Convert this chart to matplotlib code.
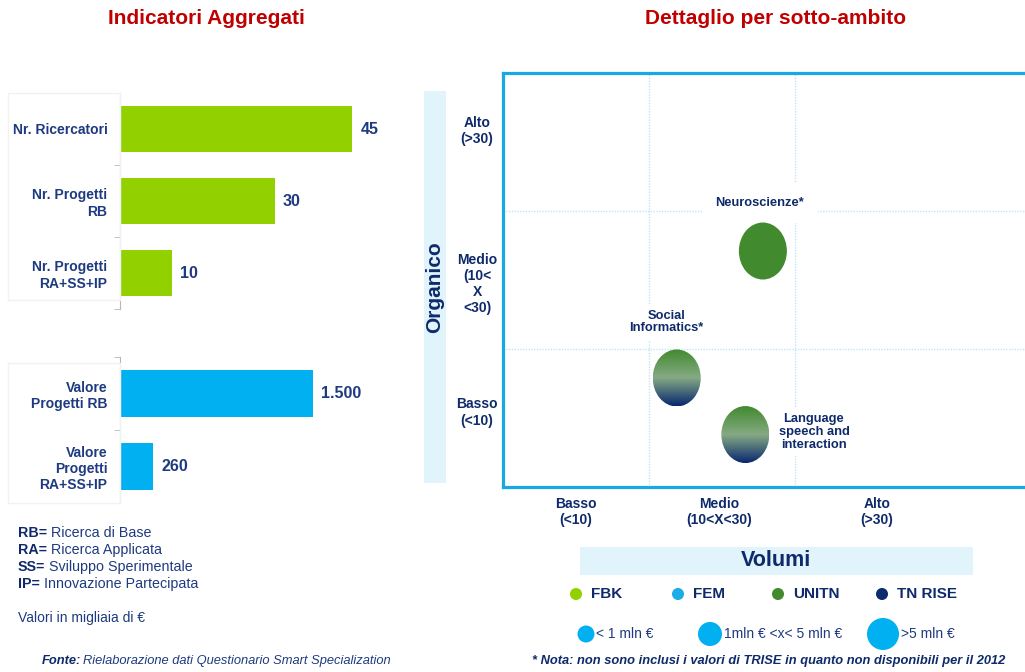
import numpy as np
import matplotlib
matplotlib.use("Agg")
import matplotlib.pyplot as plt
from matplotlib.patches import Ellipse, Rectangle
from matplotlib.colors import LinearSegmentedColormap

plt.rcParams["font.family"] = ["Liberation Sans", "DejaVu Sans"]

# --- data ---
count_labels = ["Nr. Ricercatori", "Nr. Progetti\nRB", "Nr. Progetti\nRA+SS+IP"]
count_values = [45, 30, 10]
count_text = ["45", "30", "10"]

value_labels = ["Valore\nProgetti RB", "Valore\nProgetti\nRA+SS+IP"]
value_values = [1500, 260]
value_text = ["1.500", "260"]

row_labels = ["Basso\n(<10)", "Medio\n(10<\nX\n<30)", "Alto\n(>30)"]
col_labels = ["Basso\n(<10)", "Medio\n(10<X<30)", "Alto\n(>30)"]

bubble_names = ["Neuroscienze*", "Social\nInformatics*", "Language\nspeech and\ninteraction"]
bubble_x = [1.78, 1.19, 1.66]
bubble_y = [1.71, 0.79, 0.38]
bubble_fill = ["solid", "gradient", "gradient"]

legend_names = ["FBK", "FEM", "UNITN", "TN RISE"]
legend_colors = ["#92D000", "#1AACE6", "#418A2E", "#0C2A6E"]
size_names = ["< 1 mln \u20ac", "1mln \u20ac <x< 5 mln \u20ac", ">5 mln \u20ac"]

NAVY = "#1E3A80"
DARK = "#0E2A6A"
RED = "#C00000"
GREEN = "#92D000"
BLUE = "#00B0F0"

W, H = 1025, 672
fig = plt.figure(figsize=(W / 100, H / 100), dpi=100)


def px_axes(x0, y0, x1, y1):
    return fig.add_axes([x0 / W, 1 - y1 / H, (x1 - x0) / W, (y1 - y0) / H])


def fx(x):
    return x / W


def fy(y):
    return 1 - y / H


# titles
fig.text(fx(206), fy(18), "Indicatori Aggregati", color=RED, fontsize=15,
         fontweight="bold", ha="center", va="center")
fig.text(fx(776), fy(18), "Dettaglio per sotto-ambito", color=RED, fontsize=15,
         fontweight="bold", ha="center", va="center")


def bar_panel(ax, labels, values, texts, color, xmax):
    n = len(labels)
    ax.barh(range(n), values, height=0.65, color=color)
    ax.set_ylim(n - 0.5, -0.5)
    ax.set_xlim(0, xmax)
    for s in ["top", "right", "bottom"]:
        ax.spines[s].set_visible(False)
    ax.spines["left"].set_color("#B8B8B8")
    ax.set_xticks([])
    ax.set_yticks(range(n), labels, fontsize=10, fontweight="bold", color=NAVY)
    ax.tick_params(axis="y", which="major", length=0, pad=9)
    ax.set_yticks(np.arange(-0.5, n, 1.0), minor=True)
    ax.tick_params(axis="y", which="minor", length=4, color="#B8B8B8")
    for i, (v, t) in enumerate(zip(values, texts)):
        ax.text(v + xmax * 0.03, i, t, va="center", ha="left", fontsize=11.5,
                fontweight="bold", color=NAVY)
    ax.patch.set_alpha(0)


# faint label frames
fig.patches.append(Rectangle((fx(8), fy(300)), fx(112), 207 / H, transform=fig.transFigure,
                             facecolor="none", edgecolor="#F2F2F2", lw=1))
fig.patches.append(Rectangle((fx(8), fy(503)), fx(112), 140 / H, transform=fig.transFigure,
                             facecolor="none", edgecolor="#F2F2F2", lw=1))

ax1 = px_axes(120, 93, 400, 309)
bar_panel(ax1, count_labels, count_values, count_text, GREEN, 45 * 280 / 232)

ax2 = px_axes(120, 357, 400, 503)
bar_panel(ax2, value_labels, value_values, value_text, BLUE, 1500 * 280 / 193)

# left notes
notes = [("RB=", " Ricerca di Base"), ("RA=", " Ricerca Applicata"),
         ("SS=", " Sviluppo Sperimentale"), ("IP=", " Innovazione Partecipata")]
for k, (b, t) in enumerate(notes):
    yy = fy(533 + 17 * k)
    tb = fig.text(fx(18), yy, b, fontsize=10.3, fontweight="bold", color=DARK, va="center")
    fig.canvas.draw()
    bb = tb.get_window_extent()
    fig.text(bb.x1 / W, yy, t, fontsize=10.3, color=NAVY, va="center")
fig.text(fx(18), fy(618), "Valori in migliaia di \u20ac", fontsize=10, color=NAVY, va="center")

tf = fig.text(fx(42), fy(661), "Fonte:", fontsize=9.3, fontweight="bold", style="italic",
              color=DARK, va="center")
fig.canvas.draw()
bb = tf.get_window_extent()
fig.text(bb.x1 / W + 0.002, fy(661), "Rielaborazione dati Questionario Smart Specialization",
         fontsize=9.3, style="italic", color=NAVY, va="center")

# --- matrix panel ---
ax3 = px_axes(503, 73, 1045, 487)
ax3.set_xlim(0, (1045 - 503) / 146)
ax3.set_ylim(0, 3)
for s in ax3.spines.values():
    s.set_color("#1AA8E0")
    s.set_linewidth(2.3)
ax3.set_xticks([])
ax3.set_yticks([])
for v in [1, 2]:
    ax3.axvline(v, color="#BFE5F6", lw=1, ls=(0, (1, 1)), zorder=1)
    ax3.axhline(v, color="#BFE5F6", lw=1, ls=(0, (1, 1)), zorder=1)

# Organico band
fig.patches.append(Rectangle((fx(424), fy(483)), 22 / W, 392 / H, transform=fig.transFigure,
                             facecolor="#E1F3FB", edgecolor="none"))
fig.text(fx(435), fy(287), "Organico", rotation=90, fontsize=15, fontweight="bold",
         color=DARK, ha="center", va="center")

row_y = [0.54, 1.47, 2.58]
for lab, yv in zip(row_labels, row_y):
    ax3.text(-0.178, yv, lab, ha="center", va="center", fontsize=10, fontweight="bold",
             color=DARK, linespacing=1.2, clip_on=False)
col_x = [0.5, 1.48, 2.56]
for lab, xv in zip(col_labels, col_x):
    ax3.text(xv, -0.18, lab, ha="center", va="center", fontsize=10, fontweight="bold",
             color=DARK, linespacing=1.15, clip_on=False)

grad = LinearSegmentedColormap.from_list(
    "g", [(0, "#418A2E"), (0.5, "#86AA84"), (1.0, "#0A2870")])
bw, bh = 48 / 146, 57 / 138
for x, y, kind in zip(bubble_x, bubble_y, bubble_fill):
    if kind == "solid":
        ax3.add_patch(Ellipse((x, y), bw, bh, facecolor="#418A2E", edgecolor="none", zorder=4))
    else:
        e = Ellipse((x, y), bw, bh, facecolor="none", edgecolor="none", zorder=4)
        ax3.add_patch(e)
        img = ax3.imshow(np.linspace(0, 1, 100).reshape(-1, 1), cmap=grad, aspect="auto",
                         extent=[x - bw / 2, x + bw / 2, y - bh / 2, y + bh / 2],
                         origin="upper", zorder=4)
        img.set_clip_path(e)

# bubble labels with white boxes to break grid lines
ax3.text(1.76, (487 - 203) / 138, bubble_names[0], ha="center", va="center", fontsize=9.3,
         fontweight="bold", color=DARK, zorder=3,
         bbox=dict(facecolor="white", edgecolor="none", pad=10))
ax3.text(1.12, (487 - 322) / 138, bubble_names[1], ha="center", va="center", fontsize=9.3,
         fontweight="bold", color=DARK, zorder=3, linespacing=1.1,
         bbox=dict(facecolor="white", edgecolor="none", pad=4))
ax3.text(2.13, (487 - 432) / 138, bubble_names[2], ha="center", va="center", fontsize=9.3,
         fontweight="bold", color=DARK, zorder=3, linespacing=1.1,
         bbox=dict(facecolor="white", edgecolor="none", pad=4))

# Volumi header
fig.patches.append(Rectangle((fx(580), fy(575)), 393 / W, 28 / H, transform=fig.transFigure,
                             facecolor="#E1F3FB", edgecolor="none"))
fig.text(fx(776), fy(561), "Volumi", fontsize=15.5, fontweight="bold", color=DARK,
         ha="center", va="center")

# legend entries
leg_ax = px_axes(520, 580, 1025, 650)
leg_ax.set_xlim(520, 1025)
leg_ax.set_ylim(650, 580)
leg_ax.axis("off")
dot_x = [576, 678, 778, 882]
for xd, name, c in zip(dot_x, legend_names, legend_colors):
    leg_ax.scatter([xd], [594], s=75, color=c, edgecolor="none")
    leg_ax.text(xd + 15, 594, name, fontsize=11, fontweight="bold", color=DARK, va="center")

size_x = [586, 710, 883]
size_d = [17, 24, 32]
for xs, d, name in zip(size_x, size_d, size_names):
    leg_ax.scatter([xs], [634], s=(d * 0.72) ** 2, color=BLUE, edgecolor="none")
    leg_ax.text(xs + d / 2 + 2, 634, name, fontsize=10, color=NAVY, va="center")

fig.text(fx(532), fy(661),
         "* Nota: non sono inclusi i valori di TRISE in quanto non disponibili per il 2012",
         fontsize=9.3, fontweight="bold", style="italic", color=DARK, va="center")

fig.savefig("out.png", dpi=100)
